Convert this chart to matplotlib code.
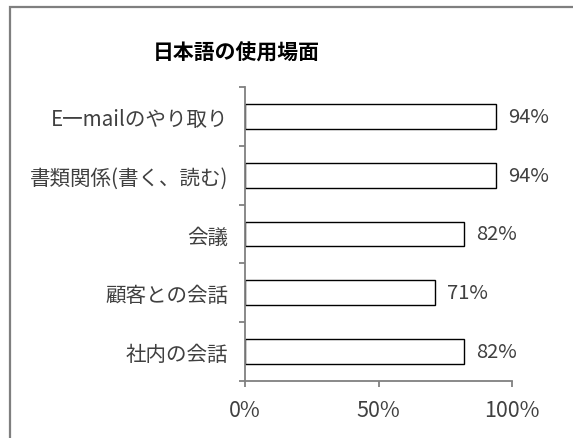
import matplotlib.pyplot as plt
import matplotlib.patches as patches
from matplotlib.ticker import PercentFormatter

plt.rcParams['font.family'] = ['Noto Sans CJK JP', 'DejaVu Sans']

# data (top to bottom as shown)
categories = ['E一mailのやり取り', '書類関係(書く、読む)', '会議', '顧客との会話', '社内の会話']
values = [0.94, 0.94, 0.82, 0.71, 0.82]
title = '日本語の使用場面'

W, H = 573, 439
fig = plt.figure(figsize=(W / 100, H / 100), dpi=100)

# outer chart frame (only left and top edges are visible)
frame = patches.Rectangle((10 / W, -0.1), 1.2, (H - 8) / H + 0.1, transform=fig.transFigure,
                          fill=False, edgecolor='#7f7f7f', linewidth=1.6)
fig.patches.append(frame)

ax = fig.add_axes([245 / W, (H - 382) / H, (512 - 245) / W, (382 - 88) / H])

n = len(categories)
pos = list(range(n))[::-1]
ax.barh(pos, values, height=0.42, color='white', edgecolor='black', linewidth=1.0)

for p, v in zip(pos, values):
    ax.text(v + 0.045, p, f'{round(v * 100)}%', va='center', ha='left',
            fontsize=14.5, color='#404040')

ax.set_xlim(0, 1)
ax.set_ylim(-0.5, n - 0.5)
ax.set_xticks([0, 0.5, 1.0])
ax.xaxis.set_major_formatter(PercentFormatter(1.0, decimals=0))

ax.set_yticks(pos)
ax.set_yticklabels(categories)
ax.set_yticks([i - 0.5 for i in range(n + 1)], minor=True)

for s in ['top', 'right']:
    ax.spines[s].set_visible(False)
for s in ['left', 'bottom']:
    ax.spines[s].set_color('#808080')
    ax.spines[s].set_linewidth(1.3)

ax.tick_params(axis='y', which='major', length=0, pad=12, labelsize=14.8, labelcolor='#404040')
ax.tick_params(axis='y', which='minor', length=4, width=1.3, color='#808080', direction='out')
ax.tick_params(axis='x', length=4, width=1.3, color='#808080', direction='out', pad=9,
               labelsize=15.5, labelcolor='#404040')

fig.text(236 / W, 1 - 53 / H, title, ha='center', va='center', fontsize=15,
         fontweight='bold', color='black')

fig.savefig('out.png', dpi=100)
